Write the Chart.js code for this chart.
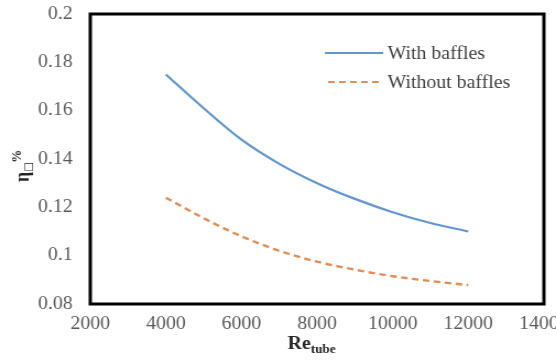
<!DOCTYPE html>
<html>
<head>
<meta charset="utf-8">
<script src="https://cdn.jsdelivr.net/npm/chart.js@4.4.1/dist/chart.umd.min.js"></script>
<style>
  html, body { margin: 0; padding: 0; background: #fff; overflow: hidden; }
  #wrap { width: 505px; height: 360px; transform: scaleX(1.101); transform-origin: 0 0; }
</style>
</head>
<body>
<div id="wrap"><canvas id="eff" width="505" height="360"></canvas></div>
<script>
// Reynolds number of the tube flow and the two efficiency curves
const reynolds       = [4000, 5000, 6000, 7000, 8000, 9000, 10000, 11000, 12000];
const withBaffles    = [0.175, 0.161, 0.148, 0.138, 0.130, 0.1235, 0.118, 0.1135, 0.110];
const withoutBaffles = [0.124, 0.1155, 0.108, 0.102, 0.0975, 0.0942, 0.0915, 0.0895, 0.0878];
const seriesNames    = ['With baffles', 'Without baffles'];
const xRange = [2000, 14000, 2000];
const yRange = [0.08, 0.2, 0.02];

const SERIF = "'Liberation Serif', 'Times New Roman', serif";
const TICK_COLOR = '#595959';
const BLUE = '#6197cf';
const ORANGE = '#e38d56';

const toPoints = ys => reynolds.map((x, i) => ({ x, y: ys[i] }));

// frame, legend and axis titles
const decorPlugin = {
    id: 'decor',
    afterDraw(chart) {
        const { ctx, chartArea: a } = chart;
        ctx.save();

        ctx.strokeStyle = '#000';
        ctx.lineWidth = 3;
        ctx.strokeRect(a.left, a.top, a.right - a.left, a.bottom - a.top);

        // legend
        ctx.font = `18px ${SERIF}`;
        ctx.fillStyle = '#404040';
        ctx.textBaseline = 'middle';
        chart.data.datasets.forEach((ds, i) => {
            const y = 53 + i * 29;
            ctx.beginPath();
            ctx.strokeStyle = ds.borderColor;
            ctx.lineWidth = 2.2;
            ctx.setLineDash(ds.borderDash || []);
            ctx.moveTo(i ? 298 : 295, y);
            ctx.lineTo(348, y);
            ctx.stroke();
            ctx.setLineDash([]);
            ctx.fillText(ds.label, 352, y + 1);
        });

        // x title: Re_tube
        ctx.fillStyle = '#262626';
        ctx.textBaseline = 'alphabetic';
        ctx.textAlign = 'left';
        ctx.font = `bold 18px ${SERIF}`;
        const reW = ctx.measureText('Re').width;
        ctx.font = `bold 12px ${SERIF}`;
        const subW = ctx.measureText('tube').width;
        let x0 = 283 - (reW + subW) / 2;
        ctx.font = `bold 18px ${SERIF}`;
        ctx.fillText('Re', x0, 349);
        ctx.font = `bold 12px ${SERIF}`;
        ctx.fillText('tube', x0 + reW, 353);

        // y title: η□%
        ctx.translate(26, 170);
        ctx.rotate(-Math.PI / 2);
        ctx.font = `bold 18px ${SERIF}`;
        const etaW = ctx.measureText('η').width;
        ctx.fillText('η', -12, 0);
        ctx.font = `10px 'DejaVu Sans', sans-serif`;
        ctx.fillText('□', -12 + etaW, 3);
        ctx.font = `bold 13px ${SERIF}`;
        ctx.fillText('%', -12 + etaW + 9, -7);

        ctx.restore();
    }
};

new Chart(document.getElementById('eff'), {
    type: 'line',
    plugins: [decorPlugin],
    data: {
        datasets: [
            {
                label: seriesNames[0],
                data: toPoints(withBaffles),
                borderColor: BLUE,
                borderWidth: 2.2,
                pointRadius: 0,
                cubicInterpolationMode: 'monotone',
            },
            {
                label: seriesNames[1],
                data: toPoints(withoutBaffles),
                borderColor: ORANGE,
                borderWidth: 2.4,
                borderDash: [6, 4],
                pointRadius: 0,
                cubicInterpolationMode: 'monotone',
            }
        ]
    },
    options: {
        responsive: false,
        animation: false,
        devicePixelRatio: 1,
        layout: { padding: { top: 14, right: 11, left: 0, bottom: 0 } },
        scales: {
            x: {
                type: 'linear',
                min: xRange[0],
                max: xRange[1],
                grid: { display: false, drawTicks: false },
                border: { display: false },
                ticks: {
                    stepSize: xRange[2],
                    padding: 9,
                    maxRotation: 0,
                    color: TICK_COLOR,
                    font: { family: SERIF, size: 18 },
                    callback: v => String(v),
                },
                afterFit(scale) {
                    scale.height = 56;
                    scale.paddingLeft = 0;
                    scale.paddingRight = 0;
                }
            },
            y: {
                min: yRange[0],
                max: yRange[1],
                grid: { display: false, drawTicks: false },
                border: { display: false },
                ticks: {
                    stepSize: yRange[2],
                    padding: 16,
                    color: TICK_COLOR,
                    font: { family: SERIF, size: 18 },
                    callback: v => String(+v.toFixed(2)),
                },
                afterFit(scale) {
                    scale.width = 82;
                    scale.paddingTop = 0;
                    scale.paddingBottom = 0;
                }
            }
        },
        plugins: {
            legend: { display: false },
            tooltip: { enabled: false }
        }
    }
});
</script>
</body>
</html>
